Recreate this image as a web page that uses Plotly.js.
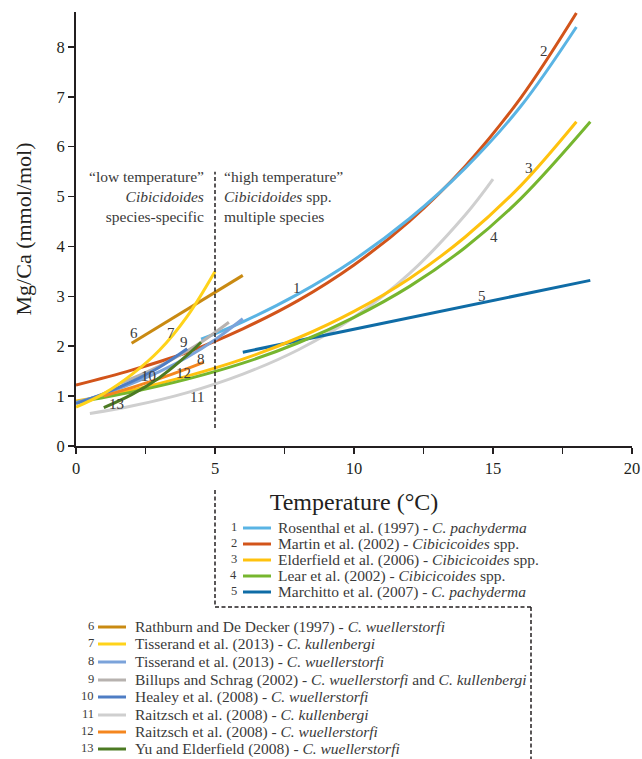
<!DOCTYPE html>
<html>
<head>
<meta charset="utf-8">
<script src="https://cdn.plot.ly/plotly-3.0.1.min.js"></script>
<style>
html,body{margin:0;padding:0;background:#fff;}
#chart{width:642px;height:759px;}
</style>
</head>
<body>
<div id="chart"></div>
<script>
// ---- Data (temperature °C, Mg/Ca mmol/mol) ----
const ids = ["1","2","3","4","5","6","7","8","9","10","11","12","13"];
const refNames = [
  "Rosenthal et al. (1997) - <i>C. pachyderma</i>",
  "Martin et al. (2002) - <i>Cibicicoides</i> spp.",
  "Elderfield et al. (2006) - <i>Cibicicoides</i> spp.",
  "Lear et al. (2002) - <i>Cibicicoides</i> spp.",
  "Marchitto et al. (2007) - <i>C. pachyderma</i>",
  "Rathburn and De Decker (1997) - <i>C. wuellerstorfi</i>",
  "Tisserand et al. (2013) - <i>C. kullenbergi</i>",
  "Tisserand et al. (2013) - <i>C. wuellerstorfi</i>",
  "Billups and Schrag (2002) - <i>C. wuellerstorfi</i> and <i>C. kullenbergi</i>",
  "Healey et al. (2008) - <i>C. wuellerstorfi</i>",
  "Raitzsch et al. (2008) - <i>C. kullenbergi</i>",
  "Raitzsch et al. (2008) - <i>C. wuellerstorfi</i>",
  "Yu and Elderfield (2008) - <i>C. wuellerstorfi</i>"
];
const colors = ["#5AB4E4","#D2541A","#FFC20E","#76B62F","#0F6CA6","#C98A12","#FFD31A",
                "#7BA3DA","#B7B2AF","#4E7DC4","#CFCFCF","#F4861F","#4C7A23"];

const t1 = [4.5, 6, 8, 10, 12, 14, 16, 18];
const m1 = [2.14, 2.49, 3.05, 3.73, 4.56, 5.57, 6.81, 8.40];
const t2 = [0, 2, 4, 6, 8, 10, 12, 14, 16, 18];
const m2 = [1.22, 1.52, 1.88, 2.35, 2.92, 3.63, 4.51, 5.61, 6.98, 8.68];
const t3 = [0, 2, 4, 6, 8, 10, 12, 14, 16, 18];
const m3 = [0.90, 1.12, 1.40, 1.74, 2.17, 2.70, 3.36, 4.19, 5.22, 6.50];
const t4 = [0, 2, 4, 6, 8, 10, 12, 14, 16, 18.5];
const m4 = [0.87, 1.08, 1.34, 1.66, 2.07, 2.58, 3.20, 3.98, 4.96, 6.50];
const t5 = [6, 18.5];
const m5 = [1.88, 3.32];
const t6 = [2, 6];
const m6 = [2.06, 3.42];
const t7 = [0, 1, 2, 3, 4, 5];
const m7 = [0.78, 1.05, 1.43, 1.92, 2.60, 3.50];
const t8 = [0, 1, 2, 3, 4, 5, 6];
const m8 = [0.87, 1.04, 1.25, 1.49, 1.78, 2.13, 2.55];
const t9 = [1.6, 2.5, 3.5, 4.5, 5.5];
const m9 = [1.26, 1.47, 1.75, 2.08, 2.48];
const t10 = [0, 1, 2, 3, 4];
const m10 = [0.85, 1.05, 1.29, 1.58, 1.95];
const t11 = [0.5, 2, 4, 6, 8, 10, 12, 14, 15];
const m11 = [0.65, 0.80, 1.07, 1.44, 1.93, 2.58, 3.46, 4.63, 5.35];
const t12 = [1, 2, 3, 4, 4.6];
const m12 = [1.00, 1.17, 1.35, 1.55, 1.68];
const t13 = [1, 2, 3, 4, 4.5];
const m13 = [0.77, 1.03, 1.37, 1.82, 2.08];

const xTickVals = [0, 2.5, 5, 7.5, 10, 12.5, 15, 17.5, 20];
const xTickText = ["0", "", "5", "", "10", "", "15", "", "20"];

const regionLeft = "“low temperature”<br><i>Cibicidoides</i><br>species-specific";
const regionRight = "“high temperature”<br><i>Cibicidoides</i> spp.<br>multiple species";

// ---- Build ----
const T = [t1,t2,t3,t4,t5,t6,t7,t8,t9,t10,t11,t12,t13];
const M = [m1,m2,m3,m4,m5,m6,m7,m8,m9,m10,m11,m12,m13];
const drawOrder = [10, 1, 0, 4, 2, 3, 8, 7, 9, 11, 12, 5, 6];
const traces = drawOrder.map(i => ({
  x: T[i], y: M[i], type: "scatter", mode: "lines",
  line: {color: colors[i], width: 3, shape: "spline", smoothing: 1},
  name: ids[i], showlegend: false, hoverinfo: "skip"
}));

const FONT = "Liberation Serif";
const TXT = "#3a3a3a";
const AX = "#231f20";
const DASH = "4px,2.5px";

// pixel -> paper helpers (plot area 76..632 x, 12..446 y)
const L = 76, R = 10, TOP = 12, W = 642, H = 759;
const pw = W - L - R, ph = 446 - TOP;
const px = v => (v - L) / pw;
const py = v => (446 - v) / ph;

const annotations = [];
const shapes = [];

// curve labels (data coordinates)
const labelPos = [[7.95,3.17],[16.85,7.92],[16.28,5.58],[15.05,4.18],[14.62,3.00],
  [2.09,2.26],[3.43,2.26],[4.50,1.74],[3.88,2.09],[2.60,1.41],[4.35,0.98],[3.88,1.47],[1.46,0.85]];
labelPos.forEach((p, i) => annotations.push({
  x: p[0], y: p[1], xref: "x", yref: "y", text: ids[i], showarrow: false,
  font: {family: FONT, size: 15, color: TXT}
}));

// region texts
annotations.push({x: px(206), y: py(196), xref: "paper", yref: "paper", text: regionLeft,
  showarrow: false, xanchor: "right", yanchor: "middle", align: "right",
  font: {family: FONT, size: 15.5, color: TXT}});
annotations.push({x: px(222), y: py(196), xref: "paper", yref: "paper", text: regionRight,
  showarrow: false, xanchor: "left", yanchor: "middle", align: "left",
  font: {family: FONT, size: 15.5, color: TXT}});

// vertical dashed separator in plot
shapes.push({type: "line", xref: "x", yref: "y", x0: 5, x1: 5, y0: 0.36, y1: 5.5,
  line: {color: AX, width: 1.5, dash: DASH}});

// legend separator dashed path
shapes.push({type: "line", xref: "paper", yref: "paper", x0: px(215), x1: px(215), y0: py(490), y1: py(607),
  line: {color: AX, width: 1.5, dash: DASH}});
shapes.push({type: "line", xref: "paper", yref: "paper", x0: px(215), x1: px(531), y0: py(607), y1: py(607),
  line: {color: AX, width: 1.5, dash: DASH}});
shapes.push({type: "line", xref: "paper", yref: "paper", x0: px(531), x1: px(531), y0: py(607), y1: py(760),
  line: {color: AX, width: 1.5, dash: DASH}});

// legend rows
const rowsA = [528, 544, 560, 576, 592];
const rowsB = [627, 644, 662, 680, 697, 715, 732, 749];
function legendRow(i, yPix, numRight, lx0, lx1, tx) {
  annotations.push({x: px(numRight), y: py(yPix - 1), xref: "paper", yref: "paper", text: ids[i],
    showarrow: false, xanchor: "right", yanchor: "middle",
    font: {family: FONT, size: 12.5, color: TXT}});
  shapes.push({type: "line", xref: "paper", yref: "paper", x0: px(lx0), x1: px(lx1), y0: py(yPix), y1: py(yPix),
    line: {color: colors[i], width: 3}});
  annotations.push({x: px(tx), y: py(yPix), xref: "paper", yref: "paper", text: refNames[i],
    showarrow: false, xanchor: "left", yanchor: "middle",
    font: {family: FONT, size: 15.5, color: TXT}});
}
for (let k = 0; k < 5; k++) legendRow(k, rowsA[k], 239, 243, 271, 276);
for (let k = 0; k < 8; k++) legendRow(5 + k, rowsB[k], 96, 98, 126, 133);

const layout = {
  width: W, height: H,
  margin: {l: L, r: R, t: TOP, b: H - 446, pad: 0},
  paper_bgcolor: "#ffffff", plot_bgcolor: "#ffffff",
  showlegend: false,
  font: {family: FONT, color: AX},
  xaxis: {
    range: [0, 20], tickmode: "array", tickvals: xTickVals, ticktext: xTickText,
    showgrid: false, zeroline: false, showline: true, linecolor: AX, linewidth: 2,
    ticks: "outside", ticklen: 6, tickwidth: 1.5, tickcolor: AX,
    tickfont: {family: FONT, size: 16.5, color: AX},
    title: {text: "Temperature (°C)", font: {family: FONT, size: 24, color: AX}, standoff: 16}
  },
  yaxis: {
    range: [0, 8.7], dtick: 1, tick0: 0,
    showgrid: false, zeroline: false, showline: true, linecolor: AX, linewidth: 2,
    ticks: "outside", ticklen: 6, tickwidth: 1.5, tickcolor: AX,
    tickfont: {family: FONT, size: 16.5, color: AX},
    title: {text: "Mg/Ca (mmol/mol)", font: {family: FONT, size: 22, color: AX}, standoff: 19}
  },
  annotations: annotations,
  shapes: shapes
};

Plotly.newPlot("chart", traces, layout, {displayModeBar: false, staticPlot: true});
</script>
</body>
</html>
